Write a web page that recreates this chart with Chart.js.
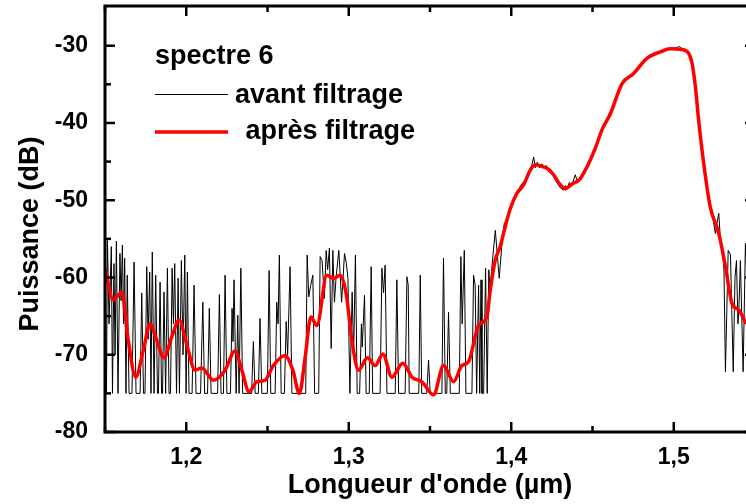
<!DOCTYPE html>
<html><head><meta charset="utf-8">
<script src="https://cdn.jsdelivr.net/npm/chart.js@4.4.0/dist/chart.umd.min.js"></script>
<style>
html,body{margin:0;padding:0;overflow:hidden;background:#fff;width:746px;height:504px}
#wrap{width:760px;height:504px;position:relative}
</style></head>
<body><div id="wrap"><canvas id="c" width="760" height="504"></canvas></div>
<script>
const legendTitle = 'spectre 6';
const xTickValues = [1.2, 1.3, 1.4, 1.5];
const xMinorValues = [1.15, 1.25, 1.35, 1.45, 1.55];
const yTickValues = [-80, -70, -60, -50, -40, -30];
const yMinorValues = [-75, -65, -55, -45, -35];

// "avant filtrage" (raw spectrum)
const rawWavelength = [
1.1500,1.1509,1.1515,1.1525,1.1539,1.1546,1.1555,1.1562,1.1570,1.1580,1.1592,1.1599,1.1607,1.1614,1.1621,1.1629,1.1637,1.1648,
1.1666,1.1679,1.1691,1.1716,1.1726,1.1737,1.1746,1.1757,1.1765,1.1775,1.1783,1.1791,1.1802,1.1812,1.1823,1.1829,1.1839,1.1848,
1.1854,1.1863,1.1873,1.1884,1.1894,1.1903,1.1913,1.1921,1.1929,1.1940,1.1950,1.1958,1.1970,1.1980,1.1991,1.1999,1.2007,1.2017,
1.2036,1.2048,1.2060,1.2088,1.2102,1.2113,1.2131,1.2142,1.2153,1.2193,1.2204,1.2214,1.2229,1.2239,1.2250,1.2272,1.2282,1.2288,
1.2294,1.2307,1.2317,1.2325,1.2336,1.2347,1.2402,1.2413,1.2424,1.2444,1.2454,1.2465,1.2499,1.2510,1.2520,1.2547,1.2557,1.2565,
1.2573,1.2584,1.2604,1.2615,1.2624,1.2639,1.2650,1.2735,1.2744,1.2754,1.2766,1.2779,1.2790,1.2815,1.2824,1.2836,1.2850,1.2861,
1.2870,1.2881,1.2892,1.2902,1.2912,1.2922,1.2939,1.2956,1.2974,1.2984,1.2995,1.3007,1.3021,1.3030,1.3041,1.3052,1.3067,1.3078,
1.3083,1.3097,1.3107,1.3126,1.3138,1.3147,1.3193,1.3204,1.3214,1.3224,1.3235,1.3286,1.3296,1.3307,1.3347,1.3358,1.3366,1.3372,
1.3431,1.3440,1.3449,1.3480,1.3491,1.3501,1.3573,1.3583,1.3594,1.3603,1.3614,1.3625,1.3680,1.3690,1.3698,1.3711,1.3721,1.3758,
1.3768,1.3778,1.3787,1.3799,1.3806,1.3814,1.3820,1.3830,1.3842,1.3852,1.3862,1.3871,1.3881,1.3902,1.3926,1.3943,1.3957,1.3975,
1.3994,1.4014,1.4035,1.4055,1.4076,1.4093,1.4117,1.4138,1.4148,1.4160,1.4173,1.4189,1.4203,1.4216,1.4230,1.4240,1.4261,1.4283,
1.4302,1.4322,1.4333,1.4345,1.4357,1.4374,1.4394,1.4407,1.4421,1.4443,1.4466,1.4487,1.4517,1.4559,1.4579,1.4610,1.4641,1.4682,
1.4715,1.4753,1.4795,1.4836,1.4875,1.4918,1.4949,1.4979,1.5010,1.5035,1.5051,1.5072,1.5092,1.5106,1.5115,1.5133,1.5154,1.5184,
1.5226,1.5244,1.5256,1.5266,1.5277,1.5287,1.5300,1.5309,1.5318,1.5335,1.5349,1.5366,1.5377,1.5386,1.5395,1.5401,1.5410,1.5427,
1.5441,1.5450];
const rawPower = [
-60,-75,-55.2,-66,-56.0,-75,-58.2,-70,-55.3,-75,-56.9,-63,-55.8,-66,-57.5,-75,-59.7,-75,
-75,-58.0,-75,-75,-62.0,-75,-75,-58.6,-68,-59.3,-75,-56.7,-75,-59.7,-75,-75,-60.6,-75,
-75,-61.9,-75,-58.8,-75,-75,-58.8,-66,-58.2,-75,-60.1,-75,-57.8,-70,-57.1,-75,-59.3,-75,
-75,-61.0,-75,-75,-63.2,-75,-75,-64.0,-75,-75,-62.2,-75,-75,-59.7,-75,-75,-64.0,-68.3,
-60.3,-75,-64.9,-75,-58.8,-75,-75,-68.3,-75,-75,-65.3,-75,-75,-59.1,-75,-75,-63.2,-66,
-57.1,-75,-75,-65.7,-70,-58.6,-75,-75,-57.1,-62.5,-61,-59.7,-75,-75,-57.3,-57.8,-62.7,-56.5,
-59,-56.2,-69.2,-56.5,-63.2,-60,-56.5,-63.2,-56.9,-58,-60.1,-75,-61.9,-70,-57.1,-75,-75,-66,
-69,-62.3,-75,-75,-58.6,-75,-75,-58.8,-62,-58.4,-75,-75,-60.3,-75,-75,-59.9,-61,-75,
-75,-59.7,-75,-75,-70.7,-75,-75,-57.5,-75,-75,-64.5,-75,-75,-57.3,-66,-56.5,-75,-75,
-59.7,-61,-75,-61.0,-75,-60.3,-75,-75,-58.8,-75,-59.0,-62,-58.6,-53.9,-60.1,-55.6,-53.0,-52.5,
-50.9,-50,-49.3,-48.2,-47.6,-47.5,-46.3,-44.4,-45.8,-45.1,-45.8,-45.3,-45.9,-45.5,-46.3,-46.0,-47.0,-47.8,
-48.4,-48.7,-48.1,-48.4,-47.7,-48.0,-46.7,-47.6,-47.2,-46.3,-45.5,-44.6,-43.2,-40.8,-40.2,-38.7,-37.2,-34.8,
-34.2,-33.5,-32.5,-31.5,-31.0,-30.7,-30.5,-30.5,-30.3,-30.1,-30.4,-30.6,-31.0,-31.8,-33,-35.4,-39.7,-45.3,
-51.0,-52.7,-54.3,-53,-51.7,-55,-56,-59,-72.2,-56.5,-57,-72.2,-60,-57.8,-66,-64,-57.8,-72.2,
-55.6,-60];

// "après filtrage" (filtered spectrum)
const filtWavelength = [
1.1500,1.1551,1.1603,1.1643,1.1689,1.1736,1.1777,1.1818,1.1863,1.1911,1.1956,1.2007,1.2054,1.2095,1.2167,1.2239,
1.2300,1.2342,1.2387,1.2434,1.2485,1.2536,1.2608,1.2656,1.2696,1.2732,1.2767,1.2804,1.2865,1.2906,1.2947,1.2984,
1.3019,1.3060,1.3115,1.3163,1.3210,1.3265,1.3333,1.3389,1.3450,1.3522,1.3583,1.3645,1.3696,1.3737,1.3799,1.3850,
1.3871,1.3901,1.3932,1.3963,1.3994,1.4035,1.4076,1.4117,1.4148,1.4189,1.4230,1.4260,1.4302,1.4333,1.4374,1.4421,
1.4466,1.4517,1.4558,1.4610,1.4682,1.4753,1.4836,1.4917,1.4979,1.5051,1.5092,1.5113,1.5133,1.5153,1.5184,1.5225,
1.5277,1.5318,1.5359,1.5400,1.5445];
const filtPower = [
-58.8,-62.9,-61.9,-68.1,-72.9,-69.4,-66.0,-68.1,-70.4,-67.7,-65.5,-69.0,-72.0,-71.7,-73.3,-72.0,
-69.5,-72.0,-74.8,-73.5,-73.3,-71.4,-70.1,-72.0,-75.0,-70.3,-65.1,-66.2,-59.7,-60.1,-59.7,-62.1,
-68.1,-72.0,-70.4,-71.4,-69.9,-72.9,-71.1,-72.9,-73.5,-75.2,-71.4,-73.5,-71.4,-70.9,-66.2,-65.1,
-61.6,-57.8,-56.0,-53.4,-51.1,-49.1,-48.0,-46.1,-45.4,-45.6,-46.0,-46.7,-48.0,-48.5,-47.9,-47.3,
-45.7,-43.3,-40.9,-38.8,-34.9,-33.6,-31.6,-30.8,-30.4,-30.5,-31.0,-32.3,-35.3,-39.6,-45.2,-50.9,
-54.3,-58.6,-63.4,-64.2,-66.0];

const FONT = 'Liberation Sans';
const toPts = (xs, ys) => xs.map((x, i) => ({x: x, y: ys[i]}));

const framePlugin = {
  id: 'frame',
  afterDatasetsDraw(chart) {
    const {ctx, chartArea: a, scales: {x, y}} = chart;
    ctx.save();
    ctx.strokeStyle = '#000';
    ctx.lineWidth = 3;
    ctx.strokeRect(a.left, a.top, a.right - a.left, a.bottom - a.top);
    ctx.lineWidth = 2.5;
    const tick = (x1, y1, x2, y2) => { ctx.beginPath(); ctx.moveTo(x1, y1); ctx.lineTo(x2, y2); ctx.stroke(); };
    xTickValues.forEach(v => { const p = x.getPixelForValue(v); tick(p, a.bottom, p, a.bottom - 10); tick(p, a.top, p, a.top + 10); });
    xMinorValues.forEach(v => { const p = x.getPixelForValue(v); tick(p, a.bottom, p, a.bottom - 6); tick(p, a.top, p, a.top + 6); });
    yTickValues.forEach(v => { const p = y.getPixelForValue(v); tick(a.left, p, a.left + 10, p); tick(a.right, p, a.right - 10, p); });
    yMinorValues.forEach(v => { const p = y.getPixelForValue(v); tick(a.left, p, a.left + 6, p); tick(a.right, p, a.right - 6, p); });
    ctx.restore();
  },
  afterDraw(chart) {
    const {ctx} = chart;
    const ds = chart.data.datasets;
    ctx.save();
    ctx.fillStyle = '#000';
    ctx.font = 'bold 27px "' + FONT + '"';
    ctx.textBaseline = 'middle';
    ctx.textAlign = 'left';
    ctx.fillText(legendTitle, 155, 57);
    ctx.strokeStyle = ds[1].borderColor; ctx.lineWidth = ds[1].borderWidth;
    ctx.beginPath(); ctx.moveTo(155, 94.5); ctx.lineTo(228, 94.5); ctx.stroke();
    ctx.fillText(ds[1].label, 235, 96);
    ctx.strokeStyle = ds[0].borderColor; ctx.lineWidth = ds[0].borderWidth;
    ctx.beginPath(); ctx.moveTo(155, 132); ctx.lineTo(228, 132); ctx.stroke();
    ctx.fillText(ds[0].label, 238, 132);
    ctx.restore();
  }
};

new Chart(document.getElementById('c'), {
  type: 'line',
  data: {
    datasets: [
      {label: ' après filtrage', data: toPts(filtWavelength, filtPower), borderColor: '#ff0000', borderWidth: 3.5,
       pointRadius: 0, cubicInterpolationMode: 'monotone', order: 0},
      {label: 'avant filtrage', data: toPts(rawWavelength, rawPower), borderColor: '#000000', borderWidth: 1,
       pointRadius: 0, tension: 0, order: 1}
    ]
  },
  options: {
    responsive: false,
    animation: false,
    devicePixelRatio: 1,
    layout: {padding: {top: 6, right: 5, left: 0, bottom: 0}},
    plugins: {legend: {display: false}, tooltip: {enabled: false}},
    scales: {
      x: {
        type: 'linear', position: 'bottom', min: 1.15, max: 1.55,
        afterBuildTicks: s => { s.ticks = xTickValues.map(v => ({value: v})); },
        afterFit: s => { s.height = 72; s.paddingLeft = 0; s.paddingRight = 0; },
        grid: {display: false, drawTicks: false}, border: {display: false},
        ticks: {padding: 12, color: '#000', autoSkip: false, maxRotation: 0,
          font: {family: FONT, weight: 'bold', size: 23},
          callback: v => Number(v).toFixed(1).replace('.', ',')},
        title: {display: true, text: "Longueur d'onde (µm)", color: '#000',
          font: {family: FONT, weight: 'bold', size: 27}, padding: {top: 0, bottom: 2}}
      },
      y: {
        type: 'linear', min: -80, max: -24.86,
        afterBuildTicks: s => { s.ticks = yTickValues.map(v => ({value: v})); },
        afterFit: s => { s.width = 105; s.paddingTop = 0; s.paddingBottom = 0; },
        grid: {display: false, drawTicks: false}, border: {display: false},
        ticks: {padding: 17, color: '#000', autoSkip: false,
          font: {family: FONT, weight: 'bold', size: 23},
          callback: v => String(v)},
        title: {display: true, text: 'Puissance (dB)    ', color: '#000',
          font: {family: FONT, weight: 'bold', size: 27}, padding: {top: 14, bottom: 0}}
      }
    }
  },
  plugins: [framePlugin]
});
</script>
</body></html>
